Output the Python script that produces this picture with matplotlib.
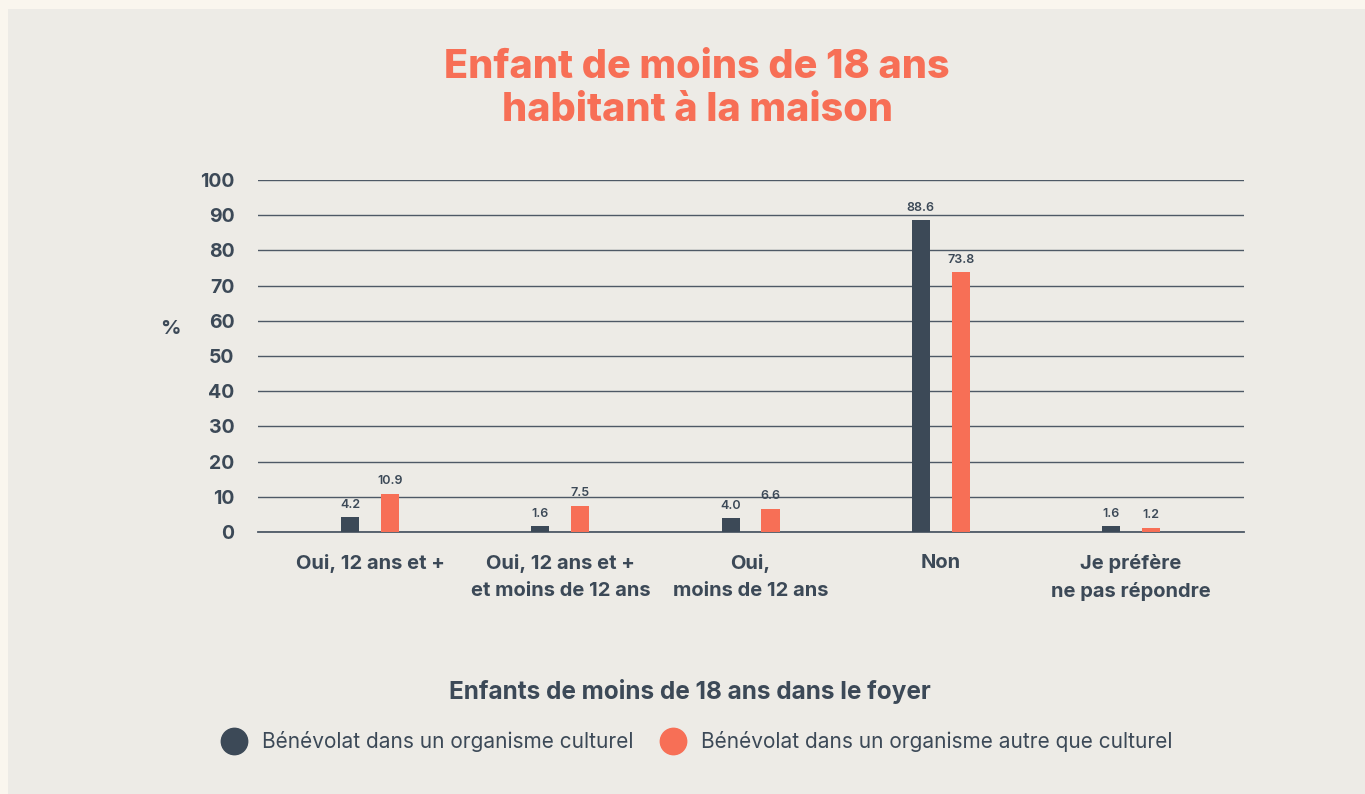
import matplotlib
matplotlib.use("Agg")
import matplotlib.pyplot as plt
from matplotlib.patches import Rectangle
from matplotlib.lines import Line2D
import numpy as np

categories = ["Oui, 12 ans et +", "Oui, 12 ans et +\net moins de 12 ans",
              "Oui,\nmoins de 12 ans", "Non", "Je préfère\nne pas répondre"]
culturel = [4.2, 1.6, 4.0, 88.6, 1.6]
autre = [10.9, 7.5, 6.6, 73.8, 1.2]
yticks = [0, 10, 20, 30, 40, 50, 60, 70, 80, 90, 100]
series_names = ["Bénévolat dans un organisme culturel",
                "Bénévolat dans un organisme autre que culturel"]

DARK = "#3c4957"
ORANGE = "#f76f56"
PANEL = "#edebe6"
OUTER = "#faf6ee"
FONT = ["Inter", "DejaVu Sans"]

plt.rcParams['font.family'] = FONT

W, H = 1365, 794
fig = plt.figure(figsize=(W / 100, H / 100), dpi=100)
fig.patch.set_facecolor(OUTER)
fig.patches.append(Rectangle((8 / W, 0), 1 - 8 / W, 1 - 9 / H, transform=fig.transFigure,
                             facecolor=PANEL, edgecolor="none", zorder=-5))

ax = fig.add_axes([258 / W, 1 - 532 / H, (1244 - 258) / W, (532 - 180) / H])
ax.set_zorder(2)
ax.set_facecolor("none")

x = np.arange(len(categories))
bw = 0.095
off = 0.105
b1 = ax.bar(x - off, culturel, bw, color=DARK, zorder=3)
b2 = ax.bar(x + off, autre, bw, color=ORANGE, zorder=3)
for bars, vals in ((b1, culturel), (b2, autre)):
    for r, v in zip(bars, vals):
        ax.text(r.get_x() + r.get_width() / 2, v + 1.8, f"{v:.1f}", ha="center", va="bottom",
                fontsize=9, color=DARK, fontweight="semibold")

ax.set_xlim(-0.59, 4.595)
ax.set_ylim(0, 100)
ax.set_yticks(yticks)
ax.set_yticklabels([str(t) for t in yticks], fontsize=14, fontweight="bold", color=DARK)
ax.yaxis.grid(True, color="#4e5966", lw=1.0, zorder=1)
ax.tick_params(axis="y", length=0, pad=17)
ax.set_xticks(x)
ax.set_xticklabels(categories, fontsize=14.5, fontweight="bold", color=DARK, linespacing=1.65)
ax.tick_params(axis="x", length=0, pad=15.5)
for s in ("top", "right", "left"):
    ax.spines[s].set_visible(False)
ax.spines["bottom"].set_color("#4e5966")
ax.spines["bottom"].set_linewidth(1.3)

fig.text(170 / W, 1 - 329 / H, "%", ha="center", va="center", fontsize=14.5,
         fontweight="bold", color=DARK)

fig.text(697 / W, 1 - 89 / H, "Enfant de moins de 18 ans\nhabitant à la maison",
         ha="center", va="center", fontsize=28.5, fontweight="heavy", color=ORANGE,
         linespacing=1.22)

fig.text(690 / W, 1 - 692 / H, "Enfants de moins de 18 ans dans le foyer", ha="center",
         va="center", fontsize=17.5, fontweight="bold", color=DARK)

handles = [Line2D([], [], marker="o", ls="none", markersize=19, color=DARK),
           Line2D([], [], marker="o", ls="none", markersize=19, color=ORANGE)]
fig.legend(handles, series_names, loc="center", bbox_to_anchor=(697 / W, 1 - 742 / H),
           ncol=2, frameon=False, fontsize=15, labelcolor=DARK, handletextpad=0.75,
           columnspacing=1.3, handlelength=1.2)

fig.savefig("out.png", dpi=100, facecolor=fig.get_facecolor())
